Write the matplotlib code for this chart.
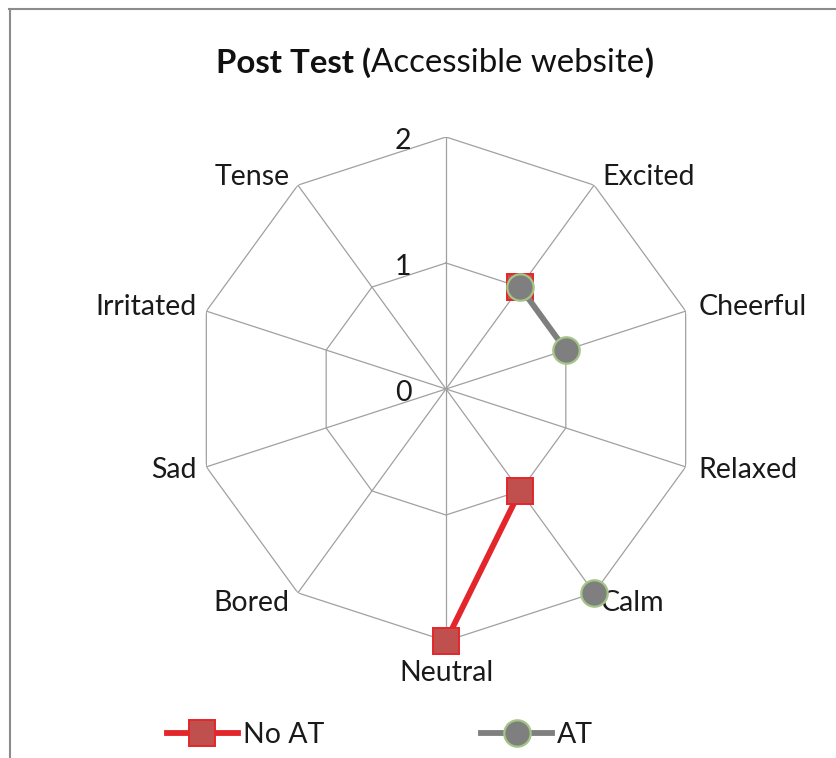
import numpy as np
import matplotlib
matplotlib.use("Agg")
import matplotlib.pyplot as plt
from matplotlib.lines import Line2D
from matplotlib.text import Annotation

plt.rcParams['font.family'] = ['Lato', 'DejaVu Sans']

categories = ["", "Excited", "Cheerful", "Relaxed", "Calm", "Neutral", "Bored", "Sad", "Irritated", "Tense"]
no_at = [np.nan, 1, np.nan, np.nan, 1, 2, np.nan, np.nan, np.nan, np.nan]
at = [np.nan, 1, 1, np.nan, 2, np.nan, np.nan, np.nan, np.nan, np.nan]
r_ticks = [0, 1, 2]
series_names = ["No AT", "AT"]
title_parts = [("Post Test (", "bold"), ("Accessible website", "normal"), (")", "bold")]

W, H = 837, 758
fig = plt.figure(figsize=(W / 100, H / 100), dpi=100)

cx, cy, R = 446, 389, 252
ax = fig.add_axes([(cx - R) / W, (H - cy - R) / H, 2 * R / W, 2 * R / H], projection='polar')
ax.set_theta_offset(np.pi / 2)
ax.set_theta_direction(-1)
ax.set_ylim(0, r_ticks[-1])
ax.grid(False)
ax.spines['polar'].set_visible(False)
ax.set_xticks([])
ax.set_yticks([])
ax.patch.set_alpha(0)

n = len(categories)
theta = np.arange(n) * 2 * np.pi / n
grid_col = '#A0A0A0'
txt_col = '#1A1A1A'
FS = 20.5

# polygon grid
for rv in r_ticks[1:]:
    ax.plot(np.append(theta, theta[0]), [rv] * (n + 1), color=grid_col, lw=0.9, zorder=1)
# spokes
for t in theta:
    ax.plot([t, t], [0, r_ticks[-1]], color=grid_col, lw=0.9, zorder=1)

# radial tick labels
for rv in r_ticks:
    ax.annotate(str(rv), xy=(0, rv), xytext=(-25, -3), textcoords='offset points',
                ha='right', va='center', fontsize=FS, color=txt_col)

# category labels
offsets = {
    "Excited": (6, 6, 'left'), "Cheerful": (9, 3, 'left'), "Relaxed": (9, -2, 'left'),
    "Calm": (5, -7, 'left'), "Neutral": (0, -23, 'center'), "Bored": (-6, -7, 'right'),
    "Sad": (-7, -2, 'right'), "Irritated": (-7, 3, 'right'), "Tense": (-6, 6, 'right'),
}
for t, c in zip(theta, categories):
    if c in offsets:
        dx, dy, ha = offsets[c]
        ax.annotate(c, xy=(t, r_ticks[-1]), xytext=(dx, dy), textcoords='offset points',
                    ha=ha, va='center', fontsize=FS, color=txt_col, annotation_clip=False)

red_line = '#E3262B'
red_fill = '#C0504D'
gray = '#7F7F7F'
green_edge = '#A3C585'
LW = 4.2
MS = 19

style_no = dict(color=red_line, lw=LW, marker='s', markersize=MS,
                markerfacecolor=red_fill, markeredgecolor=red_line, markeredgewidth=1.4)
style_at = dict(color=gray, lw=LW, marker='o', markersize=MS,
                markerfacecolor=gray, markeredgecolor=green_edge, markeredgewidth=1.6)

ax.plot(theta, no_at, zorder=3, clip_on=False, **style_no)
ax.plot(theta, at, zorder=4, clip_on=False, **style_at)

# legend
h1 = Line2D([], [], **style_no)
h2 = Line2D([], [], **style_at)
fig.legend([h1, h2], series_names, loc='center', bbox_to_anchor=(380 / W, 1 - 735 / H),
           ncol=2, frameon=False, fontsize=FS, handlelength=2.5, handletextpad=0.18,
           columnspacing=5.5, borderpad=0, labelcolor=txt_col)

# title with mixed weights
TFS = 23.8
anchor = fig.text(216 / W, 1 - 63 / H, title_parts[0][0], fontsize=TFS,
                  fontweight=title_parts[0][1], ha='left', va='center', color='#111111')
for txt, wt in title_parts[1:]:
    anchor = fig.add_artist(Annotation(
        txt, xy=(1, 0), xycoords=anchor, xytext=(0, 0), textcoords='offset points',
        ha='left', va='bottom', fontsize=TFS, fontweight=wt, color='#111111'))

# outer frame (Excel chart border)
fig.add_artist(Line2D([9 / W, 1], [1 - 8.5 / H, 1 - 8.5 / H], transform=fig.transFigure,
                      color='#8C8C8C', lw=1.5))
fig.add_artist(Line2D([9.5 / W, 9.5 / W], [0, 1 - 8.5 / H], transform=fig.transFigure,
                      color='#8C8C8C', lw=1.5))

fig.savefig("out.png", dpi=100, facecolor='white')
